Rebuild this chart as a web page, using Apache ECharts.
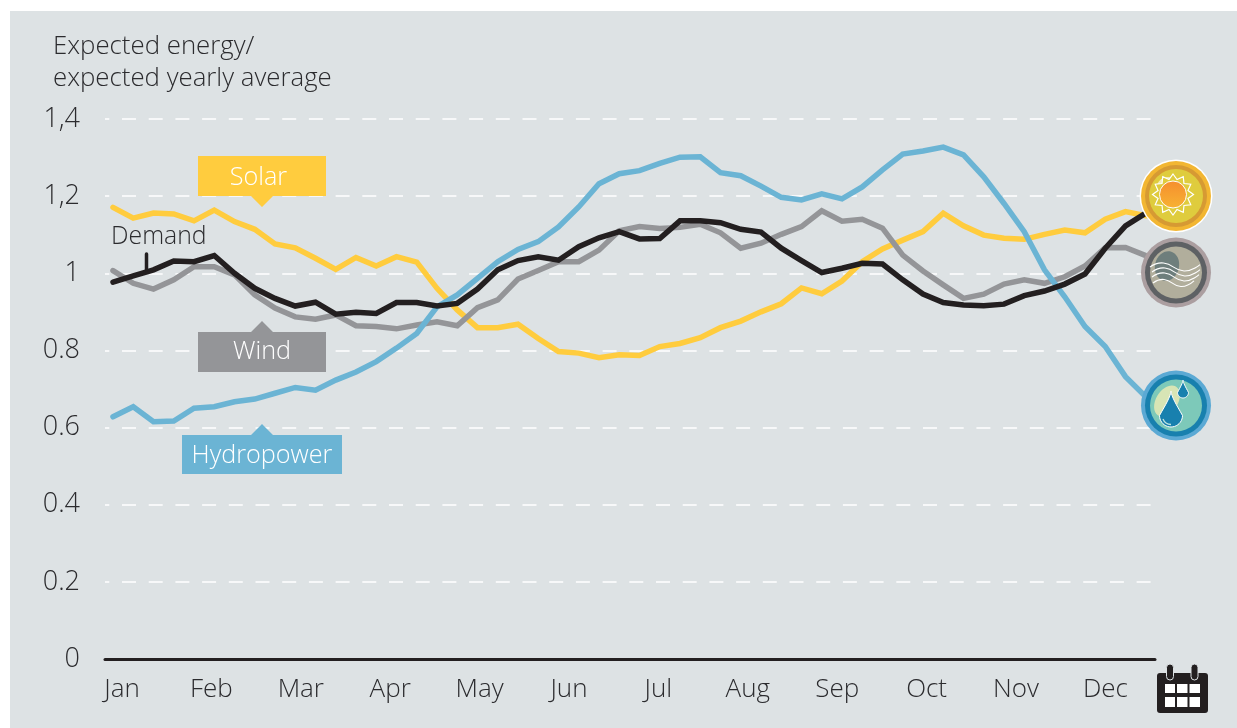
<!DOCTYPE html>
<html>
<head>
<meta charset="utf-8">
<style>html,body{margin:0;padding:0;background:#fff}#c{width:1237px;height:728px}</style>
<script src="https://cdn.jsdelivr.net/npm/echarts@6/dist/echarts.min.js"></script>
</head>
<body>
<div id="c"></div>
<script>
const months = ['Jan','Feb','Mar','Apr','May','Jun','Jul','Aug','Sep','Oct','Nov','Dec'];
const yTickLabels = ['0','0.2','0.4','0.6','0.8','1','1,2','1,4'];
const solar = [1.171,1.143,1.156,1.154,1.136,1.164,1.134,1.114,1.076,1.066,1.039,1.010,1.041,1.019,1.043,1.029,0.961,0.905,0.859,0.859,0.868,0.831,0.797,0.793,0.781,0.789,0.787,0.810,0.818,0.833,0.859,0.876,0.900,0.921,0.962,0.947,0.980,1.030,1.063,1.086,1.108,1.156,1.123,1.099,1.091,1.088,1.101,1.112,1.105,1.140,1.160,1.149,1.150];
const wind = [1.007,0.974,0.959,0.983,1.017,1.017,0.996,0.944,0.910,0.887,0.881,0.892,0.864,0.862,0.856,0.866,0.874,0.864,0.911,0.931,0.985,1.007,1.030,1.030,1.060,1.110,1.121,1.116,1.119,1.127,1.105,1.065,1.078,1.101,1.121,1.162,1.135,1.140,1.117,1.047,1.006,0.970,0.935,0.946,0.972,0.983,0.974,0.991,1.019,1.066,1.067,1.046,1.029];
const hydropower = [0.628,0.654,0.615,0.617,0.650,0.654,0.667,0.674,0.689,0.704,0.697,0.723,0.744,0.771,0.806,0.844,0.913,0.944,0.987,1.030,1.062,1.082,1.120,1.172,1.232,1.258,1.266,1.285,1.301,1.302,1.261,1.253,1.226,1.197,1.190,1.206,1.193,1.224,1.268,1.309,1.317,1.327,1.307,1.250,1.181,1.108,1.009,0.939,0.862,0.810,0.732,0.680,0.640];
const demand = [0.977,0.993,1.009,1.032,1.030,1.046,1.000,0.961,0.935,0.915,0.925,0.894,0.899,0.896,0.924,0.924,0.915,0.922,0.959,1.009,1.033,1.043,1.034,1.069,1.092,1.108,1.089,1.090,1.136,1.136,1.131,1.114,1.107,1.065,1.033,1.002,1.013,1.026,1.024,0.983,0.946,0.924,0.918,0.916,0.920,0.942,0.954,0.972,0.998,1.065,1.123,1.156,1.190];

const FONT = '"Open Sans", sans-serif';
const INK = '#2B2B2E';
const COLORS = {solar:'#FFCC3E', wind:'#949598', hydro:'#6BB4D4', demand:'#231F20'};

function lineSeries(name, values, color){
  return {
    type:'line', name, xAxisIndex:0, yAxisIndex:0, showSymbol:false, symbol:'none', clip:false, silent:true,
    data: values.map((v,i)=>[i,v]),
    lineStyle:{color, width:5.5, cap:'round', join:'miter'}
  };
}

// ---- decorative icon helpers ----
function circle(cx,cy,r,fill,extra){return Object.assign({type:'circle',shape:{cx,cy,r},style:{fill}},extra||{});}
function dropPoints(cx,top,h,w){
  const pts=[], r=w/2, cy=top+h-r, n=40;
  for(let i=0;i<=n;i++){
    const t=i/n, a=-Math.PI/2+t*2*Math.PI, sin=Math.sin(a), cos=Math.cos(a);
    let x,y;
    if(sin<0){ const k=-sin; x=cx+cos*r*(1-k)*(1-k*0.15); y=cy-k*(h-r); }
    else { x=cx+cos*r; y=cy+sin*r; }
    pts.push([x,y]);
  }
  return pts;
}
function sunPoints(cx,cy,rOut,rIn,n){
  const p=[];
  for(let i=0;i<n*2;i++){
    const r=i%2?rIn:rOut, a=-Math.PI/2+i*Math.PI/n;
    p.push([cx+r*Math.cos(a),cy+r*Math.sin(a)]);
  }
  return p;
}
function wave(x0,x1,y,amp){
  const w=x1-x0;
  const p=[[x0,y],[x0+w*0.27,y-amp],[x0+w*0.68,y+amp],[x1,y-amp*0.6]];
  return {type:'polyline',shape:{points:p,smooth:0.5},style:{stroke:'#fff',lineWidth:1.1,fill:null}};
}
function calloutText(x,y,text){
  return {type:'text',x,y,style:{text,fill:'#fff',font:'300 25.2px '+FONT,align:'center',verticalAlign:'middle'}};
}

const overlayEls = [
  // callouts
  {type:'polygon',shape:{points:[[198,156],[326,156],[326,196],[273,196],[262,207],[251,196],[198,196]]},style:{fill:COLORS.solar}},
  calloutText(258.5,178,'Solar'),
  {type:'polygon',shape:{points:[[198,332],[251,332],[262,321],[273,332],[326,332],[326,372],[198,372]]},style:{fill:COLORS.wind}},
  calloutText(262,352,'Wind'),
  {type:'polygon',shape:{points:[[182,435],[251,435],[262,424],[273,435],[342,435],[342,474],[182,474]]},style:{fill:COLORS.hydro}},
  calloutText(262,455.5,'Hydropower'),
  // demand label
  {type:'text',x:111,y:236.5,style:{text:'Demand',fill:INK,font:'300 24.8px '+FONT,verticalAlign:'middle'}},
  {type:'line',shape:{x1:146.5,y1:254,x2:146.5,y2:270},style:{stroke:COLORS.demand,lineWidth:3.5,lineCap:'round'}},

  // sun icon
  circle(1176,196,36.5,'#fff'),
  circle(1176,196,35,'#F2B632'),
  circle(1176,196,31,'#D69A33'),
  circle(1176,196,27,'#DFCC3D'),
  {type:'ellipse',shape:{cx:1168,cy:187,rx:11,ry:10},style:{fill:'#F3EDB5'}},
  {type:'polygon',shape:{points:sunPoints(1173,194.5,20.5,15.5,12)},style:{fill:'#DFCC3D',stroke:'#fff',lineWidth:1.2}},
  circle(1173,194.5,13.5,'#F79A2E',{style:{stroke:'#fff',lineWidth:1,
    fill:{type:'linear',x:0,y:0,x2:0,y2:1,colorStops:[{offset:0,color:'#F58E2E'},{offset:1,color:'#F7B233'}]}}}),

  // wind icon
  circle(1176,272.5,35,'#AB9EA0'),
  circle(1176,272.5,31,'#5E6164'),
  circle(1176,272.5,26,'#B1AE9C'),
  {type:'ellipse',shape:{cx:1167,cy:266,rx:12,ry:15},rotation:-0.25,originX:1167,originY:266,style:{fill:'#6E7E7C'}},
  wave(1150,1200,267,4),
  wave(1152,1200,272,4),
  wave(1152,1199,277,4),
  wave(1153,1194,283,3.5),

  // water icon
  circle(1176,405.5,35,'#5BA9D4'),
  circle(1176,405.5,31,'#1880AE'),
  circle(1176,405.5,26,'#7DC9B9'),
  {type:'ellipse',shape:{cx:1167,cy:401,rx:11,ry:17},rotation:-0.55,originX:1167,originY:401,style:{fill:'#D8E5B5'}},
  {type:'polygon',shape:{points:dropPoints(1171,391,36,23)},style:{fill:'#1880AE',stroke:'#fff',lineWidth:1}},
  {type:'polygon',shape:{points:dropPoints(1183,380,18,11)},style:{fill:'#1880AE',stroke:'#fff',lineWidth:1}},
  {type:'polyline',shape:{points:[[1163,419],[1166,423],[1171,424.5]],smooth:0.5},style:{stroke:'#BFE3E0',lineWidth:1.3,fill:null}},

  // calendar icon
  {type:'rect',shape:{x:1157,y:673,width:51,height:40,r:3},style:{fill:COLORS.demand}},
  {type:'rect',shape:{x:1166.5,y:664,width:7,height:16,r:3.5},style:{fill:COLORS.demand,stroke:'#DDE2E4',lineWidth:1}},
  {type:'rect',shape:{x:1191,y:664,width:7,height:16,r:3.5},style:{fill:COLORS.demand,stroke:'#DDE2E4',lineWidth:1}},
  {type:'rect',shape:{x:1165,y:684,width:10,height:9},style:{fill:'#fff'}},
  {type:'rect',shape:{x:1177,y:684,width:10.5,height:9},style:{fill:'#fff'}},
  {type:'rect',shape:{x:1189.5,y:684,width:10.5,height:9},style:{fill:'#fff'}},
  {type:'rect',shape:{x:1165,y:697,width:10,height:10},style:{fill:'#fff'}},
  {type:'rect',shape:{x:1177,y:697,width:10.5,height:10},style:{fill:'#fff'}},
  {type:'rect',shape:{x:1189.5,y:697,width:10.5,height:10},style:{fill:'#fff'}}
].map(el=>Object.assign({z:100},el));

const graphicEls = [
  // panel background
  {type:'rect',z:-10,shape:{x:10,y:11,width:1227,height:717},style:{fill:'#DDE2E4'}}
].concat(overlayEls);

const option = {
  animation:false,
  backgroundColor:'#fff',
  textStyle:{fontFamily:FONT},
  title:{
    text:'Expected energy/\nexpected yearly average',
    left:53, top:30.5, padding:0,
    textStyle:{fontFamily:FONT,fontWeight:300,fontSize:25.8,lineHeight:32,color:INK}
  },
  grid:[
    {left:105, width:1050, top:119, bottom:69},
    {left:77.3, width:1072.8, top:119, bottom:69}
  ],
  xAxis:[
    {type:'value',gridIndex:0,min:-0.395,max:51.457,axisLabel:{show:false},axisTick:{show:false},splitLine:{show:false},
     axisLine:{show:true,onZero:false,lineStyle:{color:COLORS.demand,width:3}}},
    {type:'category',gridIndex:1,data:months,boundaryGap:true,axisLine:{show:false},axisTick:{show:false},
     axisLabel:{interval:0,margin:18,color:INK,fontSize:26,fontWeight:300,fontFamily:FONT}}
  ],
  yAxis:[
    {type:'value',gridIndex:0,min:0,max:1.4,interval:0.2,
     axisLine:{show:false},axisTick:{show:false},
     axisLabel:{margin:25,color:INK,fontSize:27,fontWeight:300,fontFamily:FONT,
       formatter:(v)=>yTickLabels[Math.round(v/0.2)]},
     splitLine:{show:true,lineStyle:{color:'#fff',width:1.5,type:[14,12.7],dashOffset:9.7}}},
    {type:'value',gridIndex:1,min:0,max:1.4,show:false}
  ],
  series:[
    lineSeries('Solar',solar,COLORS.solar),
    lineSeries('Wind',wind,COLORS.wind),
    lineSeries('Hydropower',hydropower,COLORS.hydro),
    lineSeries('Demand',demand,COLORS.demand),
    {type:'line',xAxisIndex:1,yAxisIndex:1,data:[],silent:true}
  ],
  graphic:{elements:graphicEls}
};
echarts.init(document.getElementById('c'),null,{renderer:'canvas'}).setOption(option);
</script>
</body>
</html>
